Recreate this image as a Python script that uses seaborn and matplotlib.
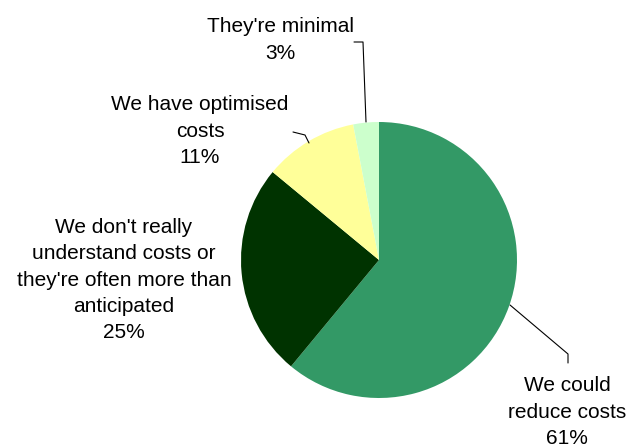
import matplotlib
matplotlib.use("Agg")
import matplotlib.pyplot as plt
import seaborn as sns

# 資料
labels = ["We could\nreduce costs", "We don't really\nunderstand costs or\nthey're often more than\nanticipated",
          "We have optimised\ncosts", "They're minimal"]
shares = [61, 25, 11, 3]
colors = ["#339966", "#003300", "#FFFF99", "#CCFFCC"]

sns.set_theme(style="white")
plt.rcParams['font.family'] = ['Liberation Sans', 'DejaVu Sans']

fig = plt.figure(figsize=(6.3, 4.48), dpi=100)
ax = fig.add_axes([0, 0, 1, 1])

# 圓心 (379,260) px, 半徑 138 px -> 以半徑為單位
R = 138.0
def px(x, y):
    return ((x - 379) / R, (260 - y) / R)

wedges, _ = ax.pie(shares, colors=colors, startangle=90, counterclock=False,
                   radius=1, center=(0, 0), wedgeprops=dict(linewidth=0))

# 標籤位置 (px) 與引線
label_pos = [(567, 412), (124, 280), (200, 131), (280, 40)]
leaders = [
    [(510, 305), (568, 354), (568, 363)],
    None,
    [(309, 143), (305, 135), (293, 132)],
    [(366, 122), (363, 42), (354, 42)],
]
for lab, s, pos, ld in zip(labels, shares, label_pos, leaders):
    x, y = px(*pos)
    ax.text(x, y, f"{lab}\n{s}%", ha="center", va="center", fontsize=15,
            color="black", linespacing=1.5)
    if ld:
        pts = [px(*p) for p in ld]
        ax.plot([p[0] for p in pts], [p[1] for p in pts], color="black", lw=0.8)

ax.set_xlim(-379 / R, (630 - 379) / R)
ax.set_ylim((260 - 448) / R, 260 / R)
ax.set_aspect("equal")
ax.axis("off")

fig.savefig("out.png", dpi=100)
